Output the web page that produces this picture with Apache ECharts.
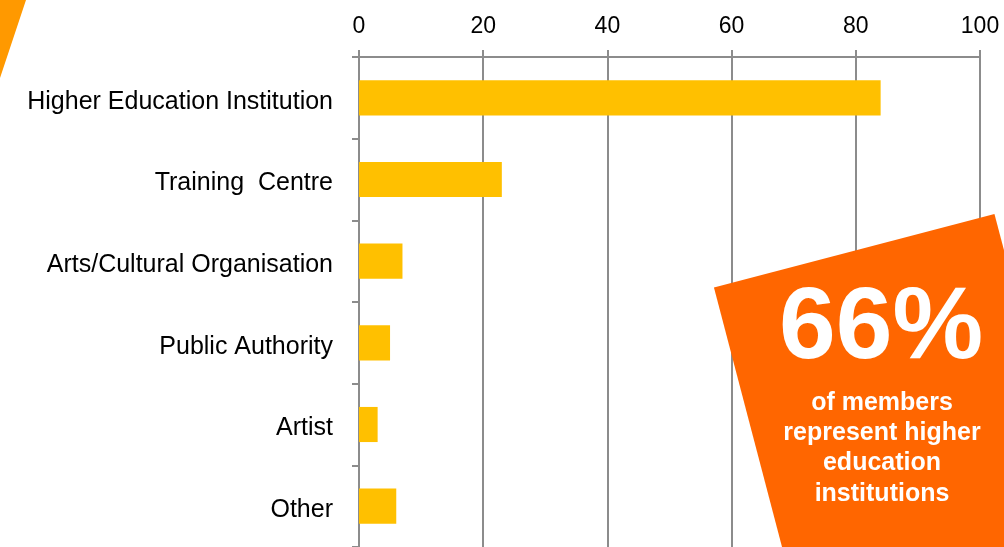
<!DOCTYPE html>
<html>
<head>
<meta charset="utf-8">
<script src="https://cdn.jsdelivr.net/npm/echarts@6/dist/echarts.min.js"></script>
<style>
html,body{margin:0;padding:0;background:#fff;}
#chart{width:1004px;height:547px;}
</style>
</head>
<body>
<div id="chart"></div>
<script>
var categories = ['Higher Education Institution', 'Training  Centre', 'Arts/Cultural Organisation', 'Public Authority', 'Artist', 'Other'];
var values = [84, 23, 7, 5, 3, 6];
var xTicks = [0, 20, 40, 60, 80, 100];
var calloutBig = '66%';
var calloutLines = ['of members', 'represent higher', 'education', 'institutions'];

var chart = echarts.init(document.getElementById('chart'));
var gray = '#8c8c8c';
var font = '"Liberation Sans", Arial, sans-serif';

var graphics = [
  { type: 'polygon', shape: { points: [[0,0],[26,0],[0,78]] }, style: { fill: '#FF9900' }, z: 10 },
  { type: 'rect', x: 891, y: 391, rotation: 0.2566,
    shape: { x: -145, y: -145, width: 290, height: 340 },
    style: { fill: '#FF6600' }, z: 20 },
  { type: 'text', x: 881, y: 330, z: 30,
    style: { text: calloutBig, fill: '#fff', font: 'bold 102px ' + font, textAlign: 'center', textVerticalAlign: 'middle' } }
];
calloutLines.forEach(function (t, i) {
  graphics.push({ type: 'text', x: 882, y: 403 + i * 30.3, z: 30,
    style: { text: t, fill: '#fff', font: 'bold 25px ' + font, textAlign: 'center', textVerticalAlign: 'middle' } });
});

chart.setOption({
  animation: false,
  grid: { left: 359, right: 24, top: 57, bottom: -4, containLabel: false },
  xAxis: {
    type: 'value', position: 'top', min: 0, max: 100, interval: 20,
    axisLine: { show: true, lineStyle: { color: gray, width: 2 } },
    axisTick: { show: true, length: 7, lineStyle: { color: gray, width: 2 } },
    axisLabel: { margin: 19, color: '#000', fontSize: 23, fontFamily: font,
      formatter: function (v) { return xTicks.indexOf(v) >= 0 ? String(v) : ''; } },
    splitLine: { show: true, lineStyle: { color: gray, width: 2 } }
  },
  yAxis: {
    type: 'category', inverse: true, data: categories,
    axisLine: { show: true, lineStyle: { color: gray, width: 2 } },
    axisTick: { show: true, length: 7, lineStyle: { color: gray, width: 2 } },
    axisLabel: { margin: 26, color: '#000', fontSize: 25, fontFamily: font, verticalAlign: 'top', lineHeight: 8 }
  },
  series: [{
    type: 'bar', data: values, barWidth: '43%',
    itemStyle: { color: '#FFC000' }
  }],
  graphic: graphics
});
</script>
</body>
</html>
